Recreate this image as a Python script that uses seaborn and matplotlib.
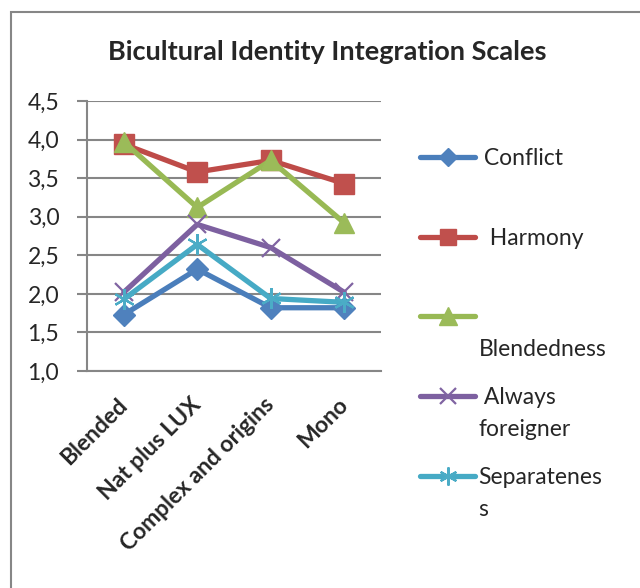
import numpy as np
import pandas as pd
import matplotlib
matplotlib.use("Agg")
import matplotlib.pyplot as plt
import seaborn as sns
from matplotlib.lines import Line2D
from matplotlib.patches import Rectangle
from matplotlib.ticker import FuncFormatter, FixedLocator

# Data
groups = ["Blended", "Nat plus LUX", "Complex and origins", "Mono"]
conflict = [1.73, 2.32, 1.82, 1.82]
harmony = [3.94, 3.58, 3.73, 3.43]
blendedness = [3.97, 3.12, 3.73, 2.92]
always_foreigner = [2.02, 2.90, 2.60, 2.02]
separateness = [1.93, 2.64, 1.94, 1.89]

series_names = ["Conflict", "Harmony", "Blendedness", "Always foreigner", "Separateness"]
series_values = [conflict, harmony, blendedness, always_foreigner, separateness]
legend_first = [" Conflict", "  Harmony", " ", " Always", "Separatenes"]
legend_rest = [None, None, "Blendedness", "foreigner", "s"]

line_colors = ["#4A7EBB", "#BE4B48", "#98B954", "#7D60A0", "#46AAC5"]
marker_colors = ["#4F81BD", "#C0504D", "#9BBB59", "#8064A2", "#4BACC6"]
markers = ["D", "s", "^", "x", (6, 2, 0)]
marker_sizes = [11, 14, 15, 13, 15]

df = pd.DataFrame({
    "group": np.tile(groups, len(series_names)),
    "scale": np.repeat(series_names, len(groups)),
    "value": np.concatenate(series_values),
})

sns.set_style("white")
plt.rcParams["font.family"] = ["Lato", "DejaVu Sans"]

fig = plt.figure(figsize=(6.4, 5.88), dpi=100)
ax = fig.add_axes([87 / 640, 1 - 371 / 588, (381 - 87) / 640, (371 - 101) / 588])

grey = "#868686"
fs = 16.5
handles = []
for name, lc, mc, mk, ms in zip(series_names, line_colors, marker_colors, markers, marker_sizes):
    sub = df[df["scale"] == name]
    thin = mk in ("x", (6, 2, 0))
    sns.lineplot(data=sub, x="group", y="value", ax=ax, color=lc, lw=3.8,
                 marker=mk, markersize=ms, markerfacecolor=mc,
                 markeredgecolor=mc, markeredgewidth=1.6 if thin else 1,
                 sort=False, legend=False)
    handles.append(Line2D([], [], color=lc, lw=3.8, marker=mk, markersize=ms - 2,
                          markerfacecolor=mc, markeredgecolor=mc,
                          markeredgewidth=1.6 if thin else 1,
                          solid_capstyle="round"))

ax.set_ylim(1.0, 4.5)
ax.set_xlim(-0.5, len(groups) - 0.5)
ax.yaxis.set_major_locator(FixedLocator(np.arange(1.0, 4.51, 0.5)))
ax.yaxis.set_major_formatter(FuncFormatter(lambda v, p: f"{v:.1f}".replace(".", ",")))
ax.grid(axis="y", color=grey, lw=1.5)
ax.set_axisbelow(True)
ax.set_xlabel("")
ax.set_ylabel("")

ax.set_xticks(range(len(groups)))
ax.set_xticklabels(groups, rotation=45, ha="right", va="center",
                   rotation_mode="anchor", fontweight="bold", fontsize=fs)
ax.set_xticks(np.arange(-0.5, len(groups), 1.0), minor=True)
ax.tick_params(axis="x", which="major", length=0, pad=22)
ax.tick_params(axis="x", which="minor", length=7, width=1.5, color=grey, direction="out")
ax.tick_params(axis="y", length=7, width=1.5, color=grey, direction="out", pad=13,
               labelsize=fs, left=True)

for side in ["top", "right"]:
    ax.spines[side].set_visible(False)
for side in ["left", "bottom"]:
    ax.spines[side].set_color(grey)
    ax.spines[side].set_linewidth(1.5)

fig.text(0.511, 1 - 52 / 588, "Bicultural Identity Integration Scales",
         ha="center", va="center", fontsize=19.5, fontweight="bold")

leg = fig.legend(handles, legend_first, loc="upper left",
                 bbox_to_anchor=(420 / 640, 1 - 148 / 588), frameon=False,
                 fontsize=fs, handlelength=2.4, handletextpad=0.15,
                 labelspacing=2.56, borderpad=0, borderaxespad=0)

fig.add_artist(Rectangle((11 / 640, -0.05), 1.0, 1 - 12 / 588 + 0.05,
                         transform=fig.transFigure, fill=False,
                         edgecolor=grey, lw=1.5))

fig.canvas.draw()
renderer = fig.canvas.get_renderer()
inv = fig.transFigure.inverted()
col_x = None
for t in leg.get_texts():
    bb = t.get_window_extent(renderer)
    if t.get_text().strip() and not t.get_text().startswith(" "):
        col_x = bb.x0
for t, rest in zip(leg.get_texts(), legend_rest):
    if rest is None:
        continue
    bb = t.get_window_extent(renderer)
    x0 = col_x if col_x is not None else bb.x0
    xf, yf = inv.transform((x0, (bb.y0 + bb.y1) / 2 - 32))
    fig.text(xf, yf, rest, ha="left", va="center", fontsize=fs)

fig.savefig("out.png", dpi=100)
